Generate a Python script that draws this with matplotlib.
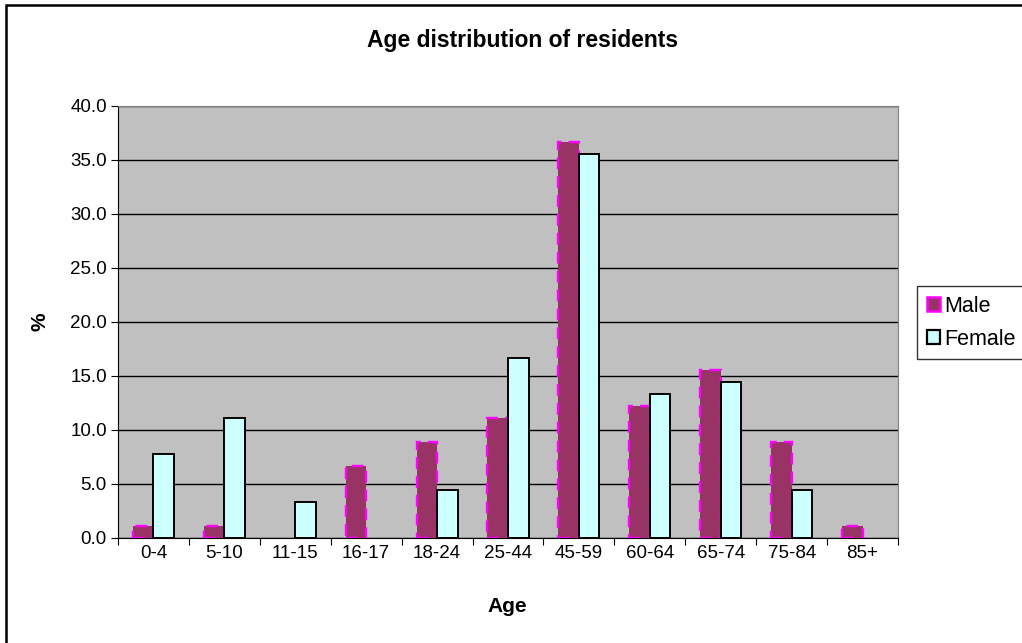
import matplotlib.pyplot as plt
from matplotlib.patches import Rectangle, Patch
import numpy as np

plt.rcParams['font.family'] = ['Liberation Sans', 'DejaVu Sans']

ages = ['0-4', '5-10', '11-15', '16-17', '18-24', '25-44', '45-59', '60-64', '65-74', '75-84', '85+']
male = [1.1, 1.1, 0.0, 6.7, 8.9, 11.1, 36.7, 12.2, 15.6, 8.9, 1.1]
female = [7.8, 11.1, 3.3, 0.0, 4.4, 16.7, 35.6, 13.3, 14.4, 4.4, 0.0]

fig = plt.figure(figsize=(10.22, 6.43), dpi=100)
# outer chart frame (only left/top visible in original)
fig.patches.append(Rectangle((6/1022, -0.05), 1.1, 1 - 5/643 + 0.05, transform=fig.transFigure,
                             fill=False, edgecolor='black', linewidth=1.8))

ax = fig.add_axes([118/1022, 1-538/643, 780/1022, 432/643])
ax.set_facecolor('#C0C0C0')

x = np.arange(len(ages))
w = 0.29
mb = ax.bar(x - w/2, male, w, color='#993366', edgecolor='#FF00FF', linewidth=1.7,
            linestyle=(0, (5, 3)), zorder=3)
fb = ax.bar(x + w/2, female, w, color='#CCFFFF', edgecolor='black', linewidth=1.4,
            zorder=3)
# empty categories draw nothing
for r in list(mb) + list(fb):
    if r.get_height() == 0:
        r.set_visible(False)

ax.set_ylim(0, 40)
ax.set_xlim(-0.5, len(ages) - 0.5)
ax.set_yticks(np.arange(0, 41, 5))
ax.set_yticklabels(['%.1f' % v for v in np.arange(0, 41, 5)], fontsize=13.5)
ax.yaxis.grid(True, color='black', linewidth=1, zorder=1)
ax.set_axisbelow(True)

ax.set_xticks(np.arange(-0.5, len(ages), 1))
ax.set_xticklabels([])
ax.set_xticks(x, minor=True)
ax.set_xticklabels(ages, minor=True, fontsize=13.5)
ax.tick_params(axis='x', which='minor', length=0, pad=5)
ax.tick_params(axis='x', which='major', length=5, direction='out', color='black')
ax.tick_params(axis='y', length=5, direction='out', pad=3)

for s in ['top', 'right']:
    ax.spines[s].set_color('#808080')
ax.spines['left'].set_color('black')
ax.spines['bottom'].set_color('black')

ax.set_xlabel('Age', fontsize=15, fontweight='bold')
ax.set_ylabel('%', fontsize=15, fontweight='bold')
ax.xaxis.set_label_coords(389/780, -(597-538)/432)
ax.yaxis.set_label_coords((50-118)/780, 0.5)
fig.text(523/1022, 1-41/643, 'Age distribution of residents', ha='center', va='center',
         fontsize=16.5, fontweight='bold')

handles = [Patch(facecolor='#993366', edgecolor='#FF00FF', linewidth=1.8),
           Patch(facecolor='#CCFFFF', edgecolor='black', linewidth=1.6)]
leg = fig.legend(handles=handles, labels=['Male', 'Female'], loc='upper left',
                 bbox_to_anchor=(917/1022, 1-286/643), fontsize=15.5, frameon=True,
                 fancybox=False, edgecolor='black', handlelength=0.6, handleheight=0.6,
                 handletextpad=0.2, borderpad=0.45, labelspacing=0.55, borderaxespad=0)
leg.get_frame().set_linewidth(1)

fig.savefig('out.png', dpi=100)
